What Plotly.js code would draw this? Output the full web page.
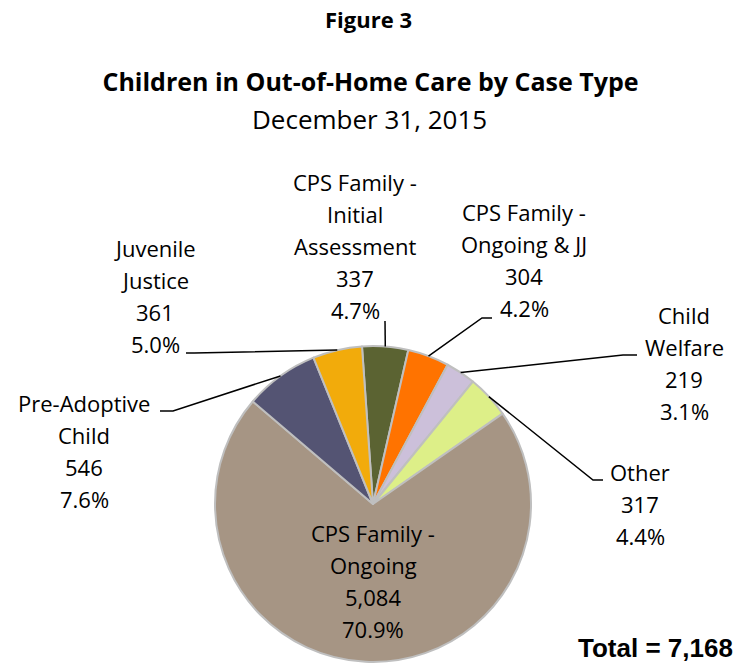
<!DOCTYPE html>
<html>
<head>
<meta charset="utf-8">
<script src="https://cdn.plot.ly/plotly-3.0.1.min.js"></script>
<style>
html, body { margin: 0; padding: 0; background: #ffffff; }
#chart { width: 741px; height: 664px; }
</style>
</head>
<body>
<div id="chart"></div>
<script>
// ---- data ----
const categories = [
  'CPS Family -<br>Initial<br>Assessment',
  'CPS Family -<br>Ongoing & JJ',
  'Child<br>Welfare',
  'Other',
  'CPS Family -<br>Ongoing',
  'Pre-Adoptive<br>Child',
  'Juvenile<br>Justice'
];
const counts = [337, 304, 219, 317, 5084, 546, 361];
const sliceColors = ['#5B6332', '#FF7300', '#CCC0DA', '#DDEF88', '#A69584', '#545473', '#F2AB0B'];
const figureLabel = 'Figure 3';
const chartTitle = 'Children in Out-of-Home Care by Case Type';
const chartSubtitle = 'December 31, 2015';
const totalPrefix = 'Total = ';

// ---- layout helpers (pixel -> paper) ----
const W = 741, H = 664;
const px = v => v / W;
const py = v => 1 - v / H;
const PIE = { cx: 373, cy: 504, r: 158 };
const ROTATION = -4;
const FONT = 'Open Sans, Noto Sans, sans-serif';
const LBL_SIZE = 22;
const LINE_GAP = 32;

// label block placement: centre x, first baseline, elbow points of the leader (pixels)
const labelPlacement = [
  { x: 355, y: 190, lead: [[385, 321]] },
  { x: 524, y: 220, lead: [[492, 318], [482, 318]] },
  { x: 684, y: 323, lead: [[637, 355], [623, 355]] },
  { x: 640, y: 480, lead: [[603, 480], [593, 480]] },
  { x: 373, y: 541, lead: null },
  { x: 84,  y: 411, lead: [[160, 411], [173, 411]] },
  { x: 155, y: 256, lead: [[186, 353], [194, 353]] }
];

const total = counts.reduce((a, b) => a + b, 0);

const annotations = [];
const shapes = [];
let cum = 0;
counts.forEach((v, i) => {
  const lines = categories[i].split('<br>');
  lines.push(v.toLocaleString('en-US'));
  lines.push((v / total * 100).toFixed(1) + '%');
  const p = labelPlacement[i];
  lines.forEach((t, k) => {
    const base = p.y + k * LINE_GAP;
    annotations.push({
      text: t, showarrow: false, xref: 'paper', yref: 'paper',
      x: px(p.x), y: py(base - 0.36 * LBL_SIZE), xanchor: 'center', yanchor: 'middle',
      font: { family: FONT, size: LBL_SIZE, color: '#000000' }
    });
  });
  const mid = (ROTATION + (cum + v / 2) / total * 360) * Math.PI / 180;
  cum += v;
  if (p.lead) {
    const ex = PIE.cx + PIE.r * Math.sin(mid);
    const ey = PIE.cy - PIE.r * Math.cos(mid);
    const pts = p.lead.concat([[ex, ey]]);
    const path = pts.map((q, k) => (k ? 'L ' : 'M ') + px(q[0]).toFixed(5) + ',' + py(q[1]).toFixed(5)).join(' ');
    shapes.push({ type: 'path', xref: 'paper', yref: 'paper', path: path,
      line: { color: '#000000', width: 1.5 } });
  }
});

annotations.push({
  text: '<b>' + figureLabel + '</b>', showarrow: false, xref: 'paper', yref: 'paper',
  x: px(368), y: py(27 - 0.36 * 22), xanchor: 'center', yanchor: 'middle',
  font: { family: FONT, size: 22, color: '#000000' }
});
annotations.push({
  text: chartSubtitle, showarrow: false, xref: 'paper', yref: 'paper',
  x: px(369), y: py(128 - 0.36 * 26), xanchor: 'center', yanchor: 'middle',
  font: { family: FONT, size: 26, color: '#000000' }
});
annotations.push({
  text: '<b>' + totalPrefix + total.toLocaleString('en-US') + '</b>', showarrow: false,
  xref: 'paper', yref: 'paper',
  x: px(735), y: py(657 - 0.36 * 26), xanchor: 'right', yanchor: 'middle',
  font: { family: 'Liberation Sans, Arial, sans-serif', size: 26, color: '#000000' }
});

const trace = {
  type: 'pie',
  values: counts,
  labels: categories.map(c => c.replace(/<br>/g, ' ')),
  sort: false,
  direction: 'clockwise',
  rotation: ROTATION,
  textinfo: 'none',
  hoverinfo: 'label+value+percent',
  marker: { colors: sliceColors, line: { color: '#BFBFBF', width: 2 } },
  domain: {
    x: [px(PIE.cx - PIE.r - 1), px(PIE.cx + PIE.r + 1)],
    y: [py(PIE.cy + PIE.r), py(PIE.cy - PIE.r)]
  },
  showlegend: false
};

const layout = {
  width: W, height: H,
  margin: { l: 0, r: 0, t: 0, b: 0 },
  paper_bgcolor: '#ffffff',
  plot_bgcolor: '#ffffff',
  showlegend: false,
  title: {
    text: '<b>' + chartTitle + '</b>',
    font: { family: FONT, size: 25, color: '#000000' },
    x: 0.5, xanchor: 'center', xref: 'paper',
    y: py(91 - 0.35 * 25), yanchor: 'middle', yref: 'paper'
  },
  annotations: annotations,
  shapes: shapes
};

Plotly.newPlot('chart', [trace], layout, { displayModeBar: false, staticPlot: true });
</script>
</body>
</html>
